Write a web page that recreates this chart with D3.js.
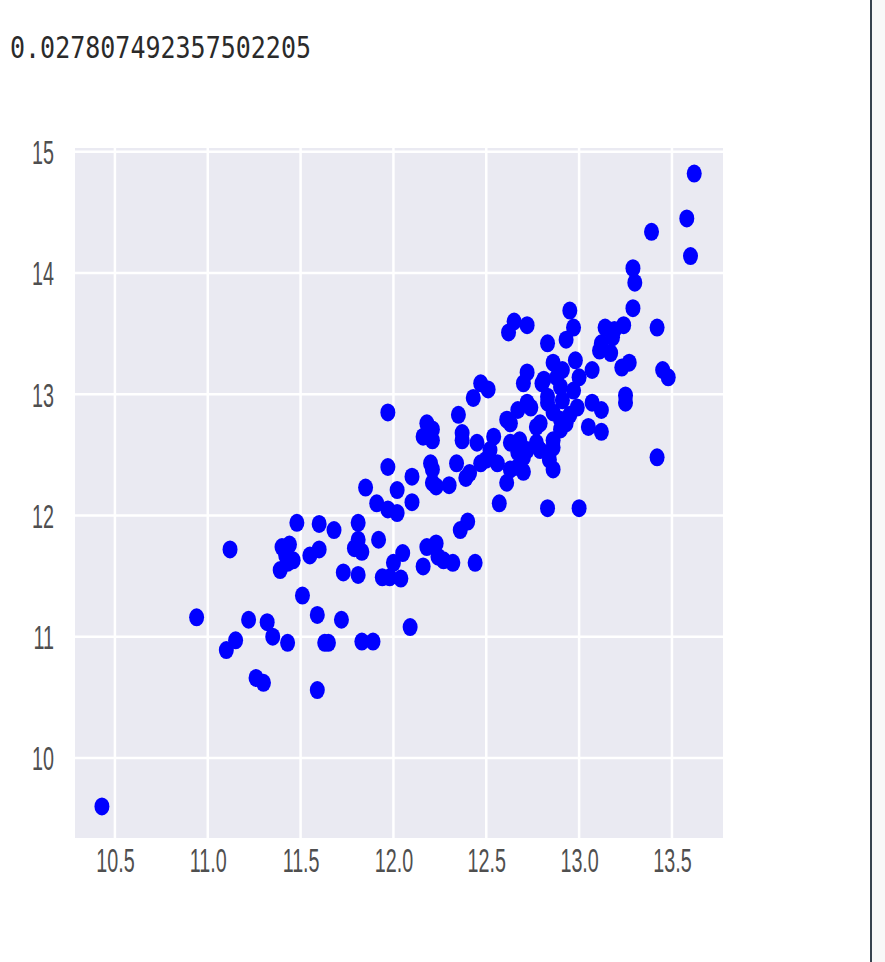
<!DOCTYPE html>
<html>
<head>
<meta charset="utf-8">
<script src="https://cdn.jsdelivr.net/npm/d3@7"></script>
<style>
  html, body { margin: 0; padding: 0; background: #ffffff; }
  svg { display: block; }
</style>
</head>
<body>
<svg id="chart" width="885" height="962"></svg>
<script>
// Printed output shown above the figure
const outputText = "0.027807492357502205";

// Tick values
const xTicks = [10.5, 11.0, 11.5, 12.0, 12.5, 13.0, 13.5];
const yTicks = [10, 11, 12, 13, 14, 15];

// Scatter data
const xs = [
  10.43, 10.94, 11.12, 11.10, 11.15, 11.22, 11.32, 11.35, 11.43, 11.26,
  11.30, 11.51, 11.59, 11.63, 11.65, 11.59, 11.72, 11.83, 11.89, 12.09,
  11.40, 11.43, 11.39, 11.46, 11.42, 11.44, 11.55, 11.60, 11.48, 11.60,
  11.68, 11.73, 11.81, 11.81, 11.81, 11.79, 11.83, 11.92, 11.94, 12.00,
  12.05, 12.04, 11.98, 12.16, 12.18, 12.23, 12.27, 12.32, 12.36, 12.40,
  12.44, 12.24, 11.97, 11.97, 12.10, 11.85, 11.91, 12.02, 11.97, 12.02,
  12.10, 12.18, 12.16, 12.21, 12.21, 12.35, 12.43, 12.37, 12.37, 12.20,
  12.21, 12.23, 12.30, 12.34, 12.41, 12.21, 12.50, 12.45, 12.56, 12.54,
  12.47, 12.51, 12.62, 12.65, 12.72, 12.70, 12.72, 12.80, 12.83, 12.67,
  12.74, 12.63, 12.79, 12.86, 12.93, 12.63, 12.68, 12.77, 12.86, 12.67,
  12.72, 12.79, 12.86, 12.63, 12.67, 12.61, 12.57, 12.86, 12.70, 12.83,
  13.00, 12.39, 12.83, 12.93, 12.95, 12.97, 12.86, 12.91, 12.98, 13.00,
  12.81, 12.90, 12.97, 12.83, 12.91, 12.99, 12.90, 12.95, 13.12, 13.07,
  13.07, 13.12, 13.05, 13.12, 13.11, 13.17, 13.14, 13.19, 13.24, 13.29,
  13.29, 13.30, 13.23, 13.27, 13.25, 13.25, 13.42, 13.45, 13.48, 13.42,
  13.39, 13.62, 13.58, 13.60, 12.61, 12.77, 12.90, 12.84, 12.70, 12.52,
  12.47, 12.88, 13.18, 12.72
];
const ys = [
   9.60, 11.16, 11.72, 10.89, 10.97, 11.14, 11.12, 11.00, 10.95, 10.66,
  10.62, 11.34, 11.18, 10.95, 10.95, 10.56, 11.14, 10.96, 10.96, 11.08,
  11.74, 11.61, 11.55, 11.63, 11.67, 11.76, 11.67, 11.72, 11.94, 11.93,
  11.88, 11.53, 11.51, 11.94, 11.80, 11.73, 11.70, 11.80, 11.49, 11.61,
  11.69, 11.48, 11.49, 11.58, 11.74, 11.77, 11.63, 11.61, 11.88, 11.95,
  11.61, 11.66, 12.85, 12.40, 12.32, 12.23, 12.10, 12.21, 12.05, 12.02,
  12.11, 12.76, 12.65, 12.62, 12.71, 12.83, 12.97, 12.62, 12.68, 12.43,
  12.38, 12.24, 12.25, 12.43, 12.35, 12.27, 12.46, 12.60, 12.43, 12.65,
  13.09, 13.04, 13.51, 13.60, 13.57, 13.09, 13.18, 13.09, 12.98, 12.87,
  12.89, 12.76, 12.76, 12.85, 12.76, 12.60, 12.62, 12.60, 12.62, 12.52,
  12.54, 12.54, 12.56, 12.38, 12.40, 12.27, 12.10, 12.38, 12.36, 12.06,
  12.06, 12.31, 13.42, 13.45, 13.69, 13.55, 13.26, 13.20, 13.28, 13.14,
  13.12, 13.06, 13.03, 12.93, 12.95, 12.89, 12.79, 12.83, 13.42, 13.20,
  12.93, 12.87, 12.73, 12.69, 13.36, 13.34, 13.55, 13.53, 13.57, 13.71,
  14.04, 13.92, 13.22, 13.26, 12.99, 12.93, 13.55, 13.20, 13.14, 12.48,
  14.34, 14.82, 14.45, 14.14, 12.79, 12.73, 12.71, 12.46, 12.48, 12.54,
  12.43, 13.14, 13.47, 12.93
];

const points = xs.map((x, i) => ({ x, y: ys[i] }));

const svg = d3.select("#chart");

// Plot frame
const plot = { left: 75, right: 723, top: 148, bottom: 838 };

const x = d3.scaleLinear().domain([10.285, 13.775]).range([plot.left, plot.right]);
const y = d3.scaleLinear().domain([9.34, 15.031]).range([plot.bottom, plot.top]);

// Right-hand panel edge
svg.append("rect")
  .attr("x", 872).attr("y", 0).attr("width", 13).attr("height", 962)
  .attr("fill", "#f8f8f8");
svg.append("line")
  .attr("x1", 871).attr("x2", 871).attr("y1", 0).attr("y2", 962)
  .attr("stroke", "#37434f").attr("stroke-width", 2);

// Printed value (slightly tall monospace)
svg.append("text")
  .attr("transform", "translate(10,58) scale(1,1.2)")
  .attr("font-family", "'DejaVu Sans Mono', monospace")
  .attr("font-size", 25)
  .attr("fill", "#2a2a2a")
  .text(outputText);

// Axes background
svg.append("rect")
  .attr("x", plot.left).attr("y", plot.top)
  .attr("width", plot.right - plot.left).attr("height", plot.bottom - plot.top)
  .attr("fill", "#eaeaf2");

// Grid
const grid = svg.append("g").attr("stroke", "#ffffff").attr("stroke-width", 2.5);
grid.selectAll("line.vx").data(xTicks).join("line")
  .attr("class", "vx")
  .attr("x1", d => x(d)).attr("x2", d => x(d))
  .attr("y1", plot.top).attr("y2", plot.bottom);
grid.selectAll("line.hy").data(yTicks).join("line")
  .attr("class", "hy")
  .attr("x1", plot.left).attr("x2", plot.right)
  .attr("y1", d => y(d)).attr("y2", d => y(d));

// Axes with labels drawn narrow (condensed digits)
const squeeze = 0.58;
const xAxis = d3.axisBottom(x).tickValues(xTicks).tickFormat(d3.format(".1f")).tickSize(0).tickPadding(0);
const gx = svg.append("g").attr("transform", `translate(0,${plot.bottom})`).call(xAxis);
gx.select(".domain").remove();
gx.selectAll("text")
  .attr("font-family", "'Liberation Sans', Arial, sans-serif")
  .attr("font-size", 34)
  .attr("fill", "#4f4f4f")
  .attr("dy", 0)
  .attr("y", 34)
  .attr("transform", `scale(${squeeze},1)`);

const yAxis = d3.axisLeft(y).tickValues(yTicks).tickFormat(d3.format("d")).tickSize(0).tickPadding(0);
const gy = svg.append("g").attr("transform", `translate(${plot.left},0)`).call(yAxis);
gy.select(".domain").remove();
gy.selectAll("text")
  .attr("font-family", "'Liberation Sans', Arial, sans-serif")
  .attr("font-size", 34)
  .attr("fill", "#4f4f4f")
  .attr("dy", "0.35em")
  .attr("x", -21 / squeeze)
  .attr("transform", `scale(${squeeze},1)`);

// Points
svg.append("g")
  .selectAll("ellipse")
  .data(points)
  .join("ellipse")
  .attr("cx", d => x(d.x))
  .attr("cy", d => y(d.y))
  .attr("rx", 7.5)
  .attr("ry", 9)
  .attr("fill", "#0000ff");
</script>
</body>
</html>
